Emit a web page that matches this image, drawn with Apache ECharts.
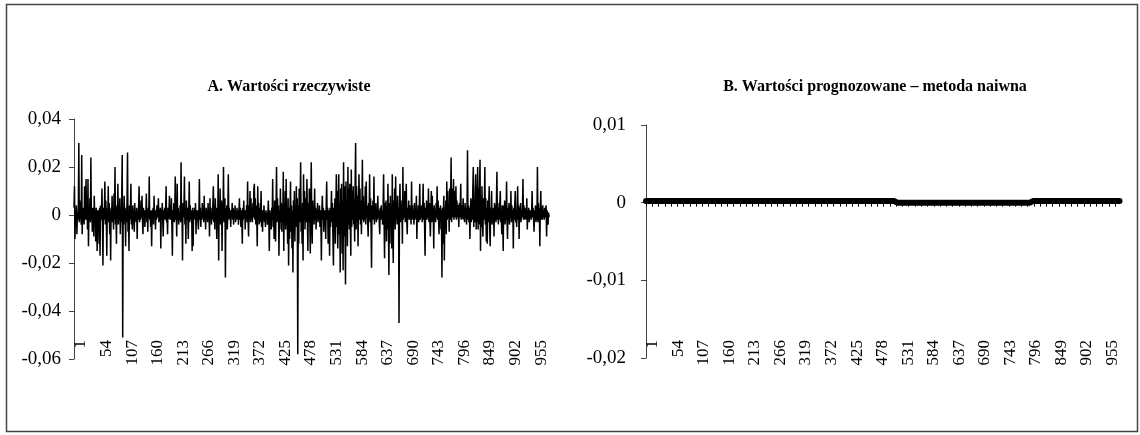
<!DOCTYPE html>
<html>
<head>
<meta charset="utf-8">
<script src="https://cdn.jsdelivr.net/npm/echarts@6/dist/echarts.min.js"></script>
<style>
html,body{margin:0;padding:0;background:#fff;}
#chart{width:1140px;height:435px;}
</style>
</head>
<body>
<div id="chart"></div>
<script>
const actualValues = [
0.003,0.012,-0.010,0.002,-0.001,0.004,-0.008,0.001,-0.002,0.003,
0.030,-0.003,0.006,-0.001,0.002,-0.004,0.025,-0.008,0.002,-0.001,
0.003,-0.004,0.012,-0.002,0.001,0.015,-0.002,0.004,-0.006,0.015,
-0.013,0.002,-0.001,0.007,-0.003,0.024,-0.002,0.001,-0.007,0.003,
0.001,-0.009,0.008,-0.002,0.002,-0.011,0.003,-0.001,-0.015,0.002,
-0.003,0.002,-0.012,0.003,-0.017,0.004,-0.002,0.001,0.011,-0.003,
-0.021,0.003,-0.002,0.001,0.014,-0.004,0.006,-0.001,-0.017,0.003,
-0.002,0.012,-0.003,0.005,-0.008,0.002,-0.019,0.003,-0.001,0.008,
-0.003,0.002,-0.006,0.009,-0.002,0.020,-0.004,0.002,-0.012,0.004,
-0.001,0.013,-0.004,0.003,-0.002,0.007,-0.008,0.002,-0.003,0.009,
0.025,-0.051,0.003,-0.004,0.008,-0.002,0.003,-0.013,0.002,-0.003,
0.006,0.026,-0.007,0.002,-0.015,0.004,-0.002,0.003,0.013,-0.004,
0.002,-0.006,0.004,-0.001,0.002,-0.007,0.005,-0.002,0.001,-0.003,
0.003,-0.010,0.002,-0.002,0.004,0.012,-0.003,0.001,-0.002,0.006,
-0.001,0.008,-0.002,-0.008,0.003,-0.001,0.002,-0.005,0.002,-0.001,
0.009,-0.003,0.002,-0.007,0.003,-0.001,0.016,-0.002,0.001,-0.005,
0.002,-0.013,0.002,-0.002,0.003,-0.004,0.008,-0.001,0.002,-0.006,
0.002,-0.002,0.004,-0.001,0.001,0.007,-0.003,0.002,-0.002,0.003,
-0.014,0.002,-0.001,0.005,-0.002,-0.009,0.002,-0.001,0.003,-0.002,
0.002,0.012,-0.003,0.001,-0.008,0.003,-0.001,0.002,0.008,-0.002,
0.003,-0.002,0.007,-0.004,-0.017,0.002,-0.001,0.005,-0.003,0.002,
0.016,-0.002,0.002,-0.009,0.013,-0.002,0.003,-0.004,0.001,-0.002,
0.004,-0.003,0.022,-0.002,0.002,-0.019,0.005,-0.001,0.003,0.016,
-0.004,0.002,-0.012,0.006,-0.002,0.003,-0.001,-0.010,0.002,0.014,
-0.003,0.004,-0.002,0.002,0.001,-0.015,0.003,-0.013,0.002,-0.002,
0.003,-0.001,0.005,-0.008,0.002,-0.001,0.002,-0.003,-0.006,0.001,
0.015,-0.002,0.003,-0.005,0.001,-0.002,0.005,-0.001,0.002,-0.003,
0.008,-0.002,0.002,-0.006,0.003,-0.001,0.002,-0.003,0.005,-0.001,
0.002,-0.009,0.007,-0.002,0.003,-0.004,0.001,-0.002,0.005,0.012,
-0.003,0.002,-0.006,0.007,-0.001,0.003,-0.010,0.002,-0.002,0.017,
-0.019,0.004,-0.002,0.011,-0.004,0.002,0.006,-0.015,0.003,-0.001,
0.020,-0.003,0.002,0.007,-0.026,0.003,-0.002,0.004,-0.006,0.002,
0.017,-0.002,0.003,-0.001,0.002,-0.005,0.002,-0.001,0.005,-0.002,
0.003,-0.004,0.002,-0.001,0.004,-0.003,0.001,-0.002,0.003,-0.001,
0.002,-0.004,0.001,0.007,-0.002,0.003,-0.005,0.002,-0.001,-0.012,
0.003,-0.002,0.006,-0.001,0.002,-0.006,0.002,-0.001,0.004,-0.003,
0.014,-0.002,-0.009,0.004,-0.001,0.010,-0.003,0.007,-0.002,0.003,
-0.003,0.005,-0.001,0.011,0.013,-0.002,0.007,-0.004,0.004,-0.001,
-0.013,0.012,-0.002,0.005,-0.004,0.003,-0.003,0.002,0.010,-0.005,
0.002,-0.007,0.002,-0.001,0.004,-0.003,0.001,-0.005,0.002,-0.002,
0.001,-0.004,0.001,0.006,-0.002,-0.015,0.002,-0.003,0.001,-0.006,
0.003,-0.002,0.015,-0.005,0.002,-0.010,0.006,-0.001,-0.011,0.003,
0.020,-0.003,0.007,-0.002,0.004,-0.017,0.002,-0.006,0.011,-0.003,
0.005,-0.007,0.003,-0.002,0.018,-0.015,0.004,-0.003,0.010,-0.006,
0.015,-0.004,0.002,-0.012,0.007,-0.021,0.003,-0.010,0.002,0.014,
-0.007,0.004,-0.014,0.002,-0.024,0.006,-0.003,0.010,-0.011,0.003,
-0.005,0.012,-0.002,0.007,-0.058,0.004,-0.012,0.011,-0.003,0.006,
0.022,-0.007,0.003,-0.012,0.005,-0.019,0.017,-0.002,0.010,-0.006,
0.007,-0.003,0.004,0.015,-0.002,-0.015,0.005,-0.003,0.011,-0.002,
-0.016,0.003,0.022,-0.002,-0.012,0.006,-0.002,0.004,-0.004,0.011,
-0.002,0.003,-0.006,0.002,-0.001,0.005,-0.003,0.002,-0.002,0.004,
-0.005,0.002,-0.002,-0.019,0.002,0.008,-0.002,0.003,-0.007,0.002,
-0.003,0.002,-0.010,0.004,0.014,-0.002,0.003,-0.012,0.002,-0.002,
-0.017,0.003,-0.005,0.002,0.010,-0.003,0.005,-0.010,-0.021,0.003,
-0.004,0.007,-0.012,0.003,0.017,-0.005,0.010,-0.014,0.004,0.017,
-0.008,0.005,-0.024,0.011,-0.006,0.013,-0.016,0.006,-0.023,0.022,
-0.009,0.012,-0.005,-0.029,0.014,-0.007,0.006,-0.013,0.020,-0.004,
0.011,-0.006,0.013,-0.003,-0.017,0.019,-0.005,0.010,-0.002,0.012,
-0.004,0.006,-0.011,0.014,0.030,-0.006,0.012,-0.003,0.008,-0.013,
0.005,0.017,-0.002,0.011,-0.004,0.006,-0.008,0.003,0.023,-0.002,
0.008,-0.003,0.005,-0.002,0.012,-0.004,0.014,-0.001,0.004,-0.003,
-0.009,0.005,-0.002,0.017,-0.003,0.007,-0.005,-0.022,0.004,-0.002,
0.006,-0.002,0.016,-0.004,0.003,-0.001,0.005,-0.003,0.002,-0.002,
0.008,-0.001,0.002,-0.003,-0.008,0.003,-0.002,0.004,-0.002,0.002,
-0.004,0.003,0.017,-0.002,-0.018,0.005,-0.003,0.006,-0.011,0.004,
-0.006,0.013,-0.004,-0.025,0.005,-0.012,0.008,-0.003,0.004,-0.014,
0.017,-0.005,-0.020,0.006,-0.003,0.011,-0.006,0.016,-0.002,0.004,
-0.004,0.008,-0.002,0.003,-0.045,0.005,0.013,-0.003,0.006,-0.002,
0.004,-0.012,0.020,-0.002,0.005,-0.001,0.010,-0.003,0.002,0.013,
-0.002,-0.008,0.003,-0.001,0.006,-0.002,0.004,-0.002,0.003,-0.004,
0.014,-0.002,0.004,-0.001,0.002,-0.004,0.005,-0.002,0.003,-0.001,
0.008,-0.010,0.002,-0.002,0.004,-0.003,0.002,0.013,-0.002,0.003,
-0.001,0.004,-0.003,0.002,0.013,-0.002,0.005,-0.004,-0.017,0.003,
-0.002,0.006,-0.002,0.003,-0.001,0.011,-0.003,0.005,-0.002,-0.009,
0.002,0.010,-0.003,0.008,-0.002,0.003,-0.014,0.004,-0.002,0.002,
-0.003,0.005,-0.001,0.012,-0.002,0.006,-0.002,-0.008,0.003,-0.002,
0.004,-0.006,0.002,-0.026,0.003,-0.012,0.002,0.008,-0.019,0.003,
-0.002,0.006,-0.008,0.014,-0.002,0.010,-0.001,0.004,-0.007,0.011,
-0.002,0.006,0.024,-0.003,0.011,-0.001,0.005,0.015,-0.002,0.010,
-0.001,0.005,0.012,-0.002,0.006,-0.001,0.004,0.002,-0.005,0.005,
-0.001,0.003,0.013,-0.002,0.004,-0.001,0.002,0.007,-0.002,0.003,
-0.003,0.005,-0.001,0.003,-0.004,0.002,0.027,-0.002,0.004,-0.003,
0.003,-0.010,0.002,0.007,-0.003,0.006,-0.002,0.011,0.020,-0.005,
0.005,-0.003,0.010,0.017,-0.006,0.012,-0.003,0.020,-0.006,0.011,
-0.004,0.013,0.023,-0.015,0.006,-0.005,0.012,-0.003,-0.009,0.007,
-0.002,0.005,0.020,-0.004,0.007,-0.011,0.003,-0.012,0.006,-0.003,
0.004,0.012,-0.005,-0.013,0.003,-0.002,0.010,-0.004,0.002,-0.002,
0.003,-0.009,0.005,-0.002,0.004,-0.003,0.006,0.018,-0.002,0.005,
-0.004,0.003,-0.002,0.005,0.010,-0.003,0.002,-0.008,0.004,-0.002,
-0.015,0.004,-0.002,0.006,-0.004,0.003,-0.002,0.014,-0.003,-0.010,
0.003,-0.002,0.005,-0.004,0.002,-0.001,0.010,-0.003,0.004,-0.001,
0.002,-0.014,0.003,-0.002,0.004,0.010,-0.003,0.002,-0.005,0.003,
0.012,-0.002,0.004,-0.010,0.003,-0.002,0.005,-0.003,0.002,-0.001,
0.003,0.015,-0.002,0.004,-0.002,0.003,-0.001,0.002,-0.002,0.007,
-0.006,0.002,-0.001,0.003,-0.003,0.002,-0.001,0.002,-0.002,0.001,
0.010,-0.001,0.003,-0.002,-0.007,0.002,-0.001,0.004,-0.003,0.002,
-0.002,0.020,-0.003,0.005,-0.002,0.003,-0.013,0.002,0.010,-0.002,
0.003,-0.002,0.004,-0.001,0.002,-0.002,0.003,-0.001,0.002,0.004,
-0.009,0.002,-0.001,-0.004,0.001,-0.001
];

// Panel B: naive forecast, read as flat runs (level, number of observations)
const naiveLevels = [0.0002, 0.0000, 0.0002];
const naiveRunLengths = [518, 284, 184];

// Tick labels shown on the category axes
const tickLabels = ['1','54','107','160','213','266','319','372','425','478','531','584','637','690','743','796','849','902','955'];

// Y axis ranges
const axisA = {min: -0.06, max: 0.04, interval: 0.02};
const axisB = {min: -0.02, max: 0.01, interval: 0.01};

// Titles
const titleA = 'A. Wartości rzeczywiste';
const titleB = 'B. Wartości prognozowane – metoda naiwna';

// ---- build ----
const categories = actualValues.map((v, i) => String(i + 1));
const naiveValues = [];
naiveLevels.forEach((lvl, k) => { for (let j = 0; j < naiveRunLengths[k]; j++) naiveValues.push(lvl); });

const FONT = 'Liberation Serif';
const fmt = v => (Math.abs(v) < 1e-9 ? '0' : v.toFixed(2).replace('.', ','));
const labelSet = new Set(tickLabels);

function labelAxis(grid) {
  return {
    type: 'category', gridIndex: grid, data: categories, boundaryGap: false,
    position: 'bottom', offset: 0,
    axisLine: {show: false, onZero: false}, axisTick: {show: false},
    axisLabel: {
      show: true, rotate: 90, margin: 0, fontFamily: FONT, fontSize: 17, color: '#000',
      interval: (idx, val) => labelSet.has(val)
    },
    splitLine: {show: false}
  };
}
function zeroAxis(grid) {
  return {
    type: 'category', gridIndex: grid, data: categories, boundaryGap: false,
    position: 'bottom',
    axisLine: {show: true, onZero: true, lineStyle: {color: '#000', width: 1}},
    axisTick: {show: true, interval: 12, length: 4, lineStyle: {color: '#000', width: 1}},
    axisLabel: {show: false},
    splitLine: {show: false}
  };
}
function yAxis(grid, rng, margin) {
  return {
    type: 'value', gridIndex: grid, min: rng.min, max: rng.max, interval: rng.interval,
    axisLine: {show: true, onZero: false, lineStyle: {color: '#444', width: 1}},
    axisTick: {show: true, length: 5, lineStyle: {color: '#444'}},
    axisLabel: {fontFamily: FONT, fontSize: 19, color: '#000', margin: margin, formatter: fmt},
    splitLine: {show: false}
  };
}
function hiddenY(grid) {
  return {type: 'value', gridIndex: grid, min: 0, max: 1, show: false};
}

const chart = echarts.init(document.getElementById('chart'), null, {renderer: 'canvas'});
chart.setOption({
  animation: false,
  backgroundColor: '#fff',
  grid: [
    {left: 74, top: 119, width: 475, height: 240},
    {left: 646, top: 125, width: 474, height: 233},
    // label strips (category labels sit slightly right of their ticks, as in the reference)
    {left: 81, top: 119, width: 475, height: 221},
    {left: 653, top: 125, width: 474, height: 215}
  ],
  xAxis: [zeroAxis(0), zeroAxis(1), labelAxis(2), labelAxis(3)],
  yAxis: [yAxis(0, axisA, 13), yAxis(1, axisB, 20), hiddenY(2), hiddenY(3)],
  series: [
    {type: 'line', xAxisIndex: 0, yAxisIndex: 0, data: actualValues, showSymbol: false,
     lineStyle: {color: '#000', width: 1.5}, z: 3},
    {type: 'line', xAxisIndex: 1, yAxisIndex: 1, data: naiveValues, showSymbol: false,
     lineStyle: {color: '#000', width: 6, cap: 'round'}, z: 3}
  ],
  graphic: [
    {type: 'rect', shape: {x: 6.5, y: 4.5, width: 1131, height: 427},
     style: {fill: 'none', stroke: '#444', lineWidth: 1.5}, silent: true},
    {type: 'text', x: 289, y: 87, style: {text: titleA, font: 'bold 16px "Liberation Serif"',
     fill: '#000', textAlign: 'center', textVerticalAlign: 'middle'}},
    {type: 'text', x: 875, y: 87, style: {text: titleB, font: 'bold 16px "Liberation Serif"',
     fill: '#000', textAlign: 'center', textVerticalAlign: 'middle'}}
  ]
});
</script>
</body>
</html>
